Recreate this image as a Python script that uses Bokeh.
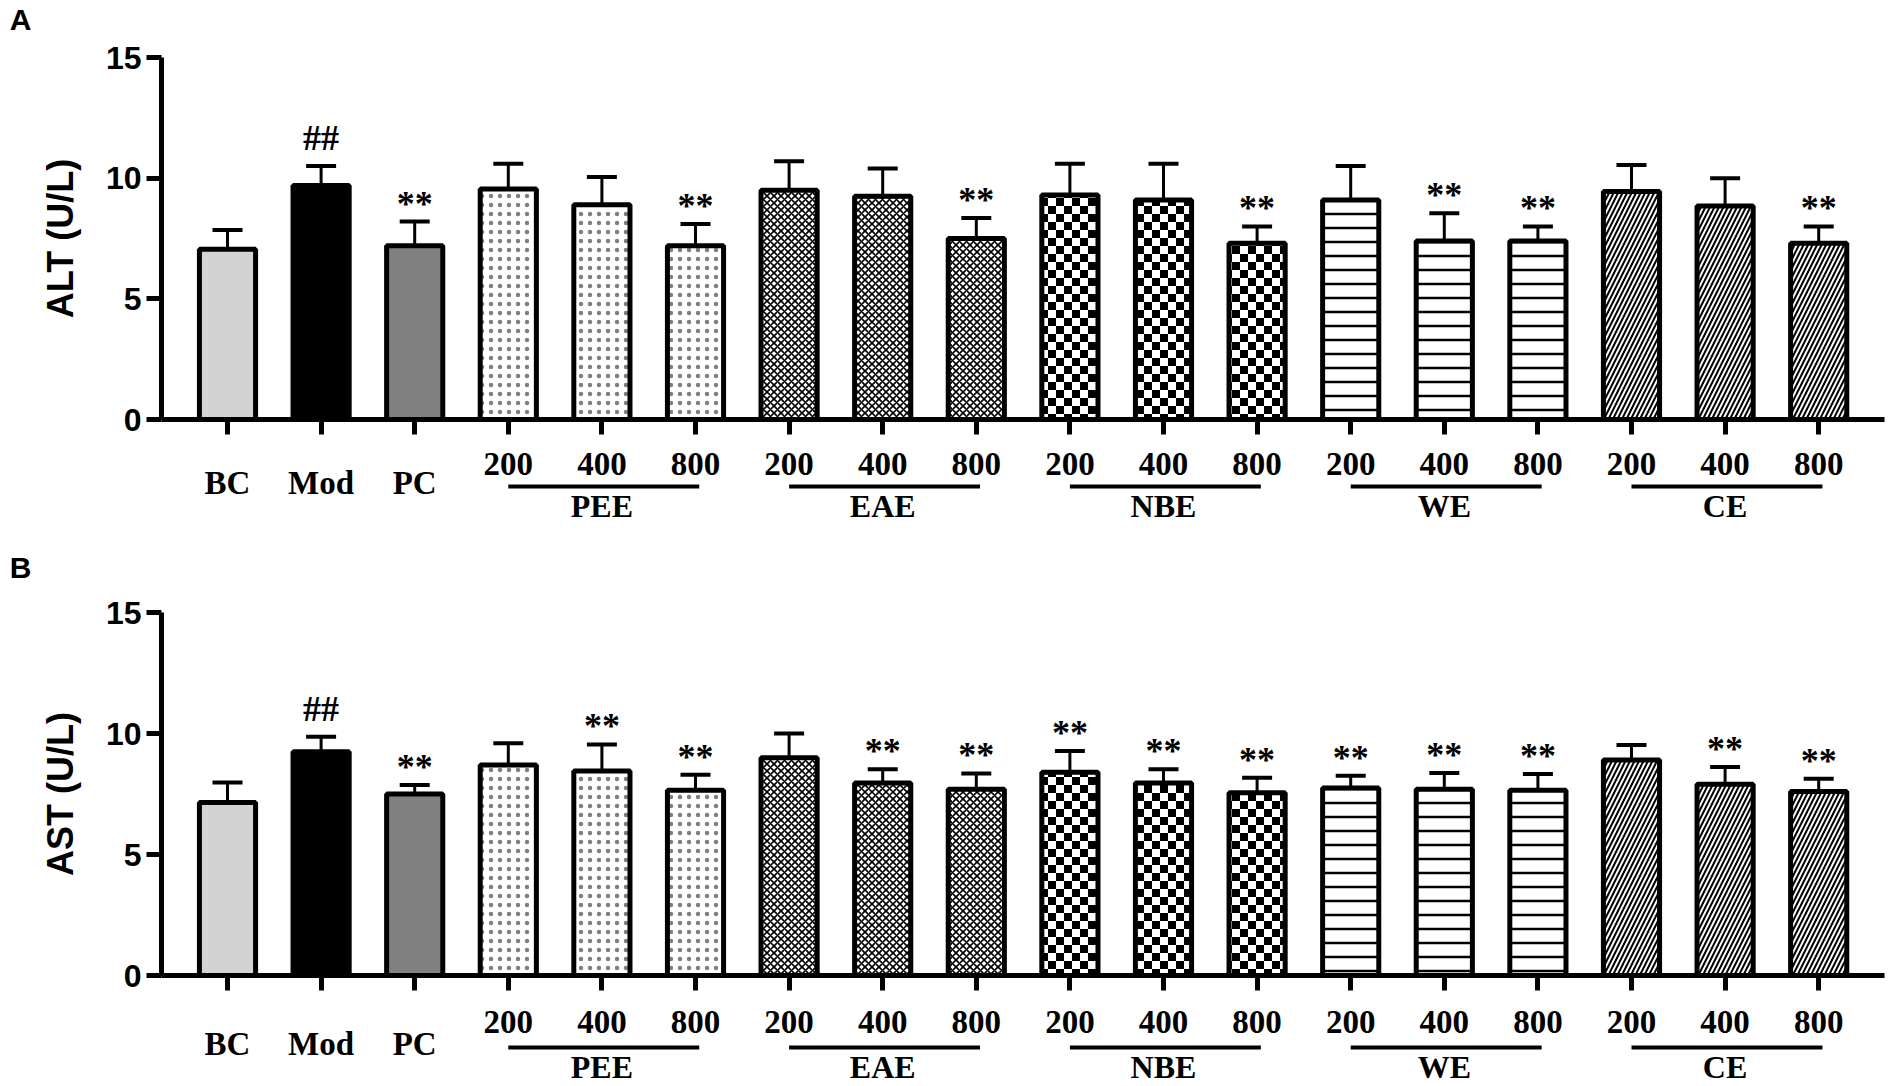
from bokeh.plotting import figure
from bokeh.models import (ColumnDataSource, Range1d, FixedTicker, Whisker, TeeHead,
                          CanvasTexture, LinearAxis)
from bokeh.layouts import column
from bokeh.core.properties import value
from bokeh.embed import file_html
from bokeh.resources import INLINE

# ---------------- data ----------------
tick_labels = ["BC", "Mod", "PC",
               "200", "400", "800", "200", "400", "800", "200", "400", "800",
               "200", "400", "800", "200", "400", "800"]
groups = ["PEE", "EAE", "NBE", "WE", "CE"]
panels = ["A", "B"]

alt_mean = [7.05, 9.70, 7.20, 9.55, 8.90, 7.20, 9.50, 9.25, 7.50,
            9.30, 9.10, 7.30, 9.10, 7.40, 7.40, 9.45, 8.85, 7.30]
alt_sd = [0.80, 0.80, 1.00, 1.05, 1.15, 0.90, 1.20, 1.15, 0.85,
          1.30, 1.50, 0.70, 1.40, 1.15, 0.60, 1.10, 1.15, 0.70]
alt_sig = ["", "##", "**", "", "", "**", "", "", "**",
           "", "", "**", "", "**", "**", "", "", "**"]

ast_mean = [7.15, 9.25, 7.50, 8.70, 8.45, 7.65, 9.00, 7.95, 7.70,
            8.40, 7.95, 7.55, 7.75, 7.70, 7.65, 8.90, 7.90, 7.60]
ast_sd = [0.83, 0.62, 0.37, 0.90, 1.10, 0.65, 1.00, 0.57, 0.65,
          0.88, 0.57, 0.62, 0.50, 0.67, 0.68, 0.62, 0.72, 0.53]
ast_sig = ["", "##", "**", "", "**", "**", "", "**", "**",
           "**", "**", "**", "**", "**", "**", "", "**", "**"]

# ---------------- layout ----------------
N = len(tick_labels)
xs = list(range(N))
kinds = ["BC", "Mod", "PC"] + [g for g in groups for _ in range(3)]

W = 1900
LEFT = 161
RIGHT = 16
PX = 93.6
frame_w = W - LEFT - RIGHT
x_start = -66 / PX
xr = Range1d(x_start, x_start + frame_w / PX)

checker = CanvasTexture(code="""
const c = ctx.canvas;
c.width = 16;
c.height = 16;
ctx.fillStyle = '#ffffff';
ctx.fillRect(0, 0, 16, 16);
ctx.fillStyle = '#000000';
ctx.fillRect(0, 0, 8, 8);
ctx.fillRect(8, 8, 8, 8);
""")

styles = {
    "BC": dict(fill_color="#d3d3d3"),
    "Mod": dict(fill_color="#000000"),
    "PC": dict(fill_color="#808080"),
    "PEE": dict(fill_color="white", hatch_pattern="dot", hatch_color="#808080",
                hatch_scale=9, hatch_weight=2.2),
    "EAE": dict(fill_color="white", hatch_pattern="diagonal_cross", hatch_color="#000000",
                hatch_scale=7, hatch_weight=1.6),
    "NBE": dict(fill_color="white", hatch_pattern="hp", hatch_extra={"checker": checker},
                hatch_color="#000000", hatch_scale=16),
    "WE": dict(fill_color="white", hatch_pattern="horizontal_line", hatch_color="#000000",
               hatch_scale=14, hatch_weight=2.5),
    "CE": dict(fill_color="white", hatch_pattern="right_diagonal_line", hatch_color="#000000",
               hatch_scale=9, hatch_weight=2.0),
}

SERIF = value("Liberation Serif")


def strip(top, height, letter=None, letter_y=None):
    p = figure(width=W, height=height, x_range=xr, y_range=Range1d(top + height, top),
               output_backend="svg", toolbar_location=None, title=None,
               x_axis_location=None, y_axis_location=None,
               min_border_left=LEFT, min_border_right=RIGHT, min_border_top=0,
               min_border_bottom=0)
    p.xgrid.visible = False
    p.ygrid.visible = False
    p.outline_line_color = None
    if letter is not None:
        ax = LinearAxis(ticker=FixedTicker(ticks=[letter_y]),
                        major_label_overrides={letter_y: letter},
                        axis_line_color=None, major_tick_line_color=None,
                        minor_tick_line_color=None, major_tick_out=0, major_tick_in=0,
                        major_label_standoff=LEFT - 31,
                        major_label_text_font="Liberation Sans",
                        major_label_text_font_style="bold",
                        major_label_text_font_size="30px",
                        major_label_text_color="#000000")
        p.add_layout(ax, "left")
    return p


def main_fig(mean, sd, sig, ylabel, top_border, frame_h):
    bottom_border = 20
    p = figure(width=W, height=top_border + frame_h + bottom_border, x_range=xr,
               y_range=Range1d(0, 15), output_backend="svg", toolbar_location=None,
               min_border_left=LEFT, min_border_right=RIGHT, min_border_top=top_border,
               min_border_bottom=bottom_border, title=None)
    p.xgrid.visible = False
    p.ygrid.visible = False
    p.outline_line_color = None
    p.background_fill_color = "white"

    tops = [m + s for m, s in zip(mean, sd)]
    for kind in ["BC", "Mod", "PC"] + groups:
        idx = [i for i in xs if kinds[i] == kind]
        src = ColumnDataSource(dict(x=[xs[i] for i in idx], top=[mean[i] for i in idx],
                                    hp=["checker"] * len(idx)))
        p.vbar(x="x", top="top", bottom=0, width=0.6, source=src,
               line_color="#000000", line_width=5, **styles[kind])

    esrc = ColumnDataSource(dict(x=xs, lower=list(mean), upper=tops))
    p.add_layout(Whisker(source=esrc, base="x", lower="lower", upper="upper",
                         dimension="height", line_width=3, line_color="#000000",
                         upper_head=TeeHead(size=30, line_width=4, line_color="#000000"),
                         lower_head=None, level="annotation"))

    sidx = [i for i in xs if sig[i]]
    ssrc = ColumnDataSource(dict(
        x=[xs[i] for i in sidx], y=[tops[i] for i in sidx], text=[sig[i] for i in sidx],
        off=[-28 if sig[i] == "##" else -18 for i in sidx]))
    p.text(x="x", y="y", text="text", source=ssrc, y_offset="off", text_font=SERIF,
           text_font_style="bold", text_font_size="36px", text_align="center",
           text_baseline="alphabetic", text_color="#000000")

    ya = p.yaxis[0]
    ya.ticker = FixedTicker(ticks=[0, 5, 10, 15])
    ya.minor_tick_line_color = None
    ya.major_tick_in = 0
    ya.major_tick_out = 15
    ya.major_tick_line_width = 5
    ya.axis_line_width = 5
    ya.major_label_text_font = "Liberation Sans"
    ya.major_label_text_font_size = "32px"
    ya.major_label_text_font_style = "bold"
    ya.major_label_text_color = "#000000"
    ya.major_label_standoff = 5
    ya.axis_label = ylabel
    ya.axis_label_text_font = "Liberation Sans"
    ya.axis_label_text_font_size = "36px"
    ya.axis_label_text_font_style = "bold"
    ya.axis_label_text_color = "#000000"
    ya.axis_label_standoff = 22

    xa = p.xaxis[0]
    xa.ticker = FixedTicker(ticks=xs)
    xa.minor_tick_line_color = None
    xa.major_tick_in = 0
    xa.major_tick_out = 15
    xa.major_tick_line_width = 5
    xa.axis_line_width = 5
    xa.major_label_text_font_size = "1px"
    xa.major_label_text_color = None
    xa.major_label_standoff = 0
    return p


def add_labels(p, dose_y, ctrl_y, line_y, group_y):
    lsrc = ColumnDataSource(dict(
        x=xs, text=tick_labels,
        y=[ctrl_y if kinds[i] in ("BC", "Mod", "PC") else dose_y for i in xs]))
    p.text(x="x", y="y", text="text", source=lsrc, text_font=SERIF, text_font_style="bold",
           text_font_size="33px", text_align="center", text_baseline="middle",
           text_color="#000000")
    gx0 = [min(i for i in xs if kinds[i] == g) for g in groups]
    gx1 = [max(i for i in xs if kinds[i] == g) for g in groups]
    gsrc = ColumnDataSource(dict(x0=gx0, x1=[v + 0.04 for v in gx1],
                                 xm=[(a + b) / 2 for a, b in zip(gx0, gx1)],
                                 y=[line_y] * len(groups), gy=[group_y] * len(groups),
                                 text=groups))
    p.segment(x0="x0", x1="x1", y0="y", y1="y", source=gsrc, line_width=4,
              line_color="#000000")
    p.text(x="xm", y="gy", text="text", source=gsrc, text_font=SERIF, text_font_style="bold",
           text_font_size="32px", text_align="center", text_baseline="middle",
           text_color="#000000")


sA = strip(0, 38, panels[0], 24)
pA = main_fig(alt_mean, alt_sd, alt_sig, "ALT (U/L)", 19, 362)
lA = strip(439, 146, panels[1], 567)
add_labels(lA, 463, 482, 486, 505)
pB = main_fig(ast_mean, ast_sd, ast_sig, "AST (U/L)", 27, 363)
lB = strip(995, 90)
add_labels(lB, 1021, 1043, 1047, 1066)

layout = column(sA, pA, lA, pB, lB, spacing=0)
open("out.html", "w").write(file_html(layout, INLINE))
